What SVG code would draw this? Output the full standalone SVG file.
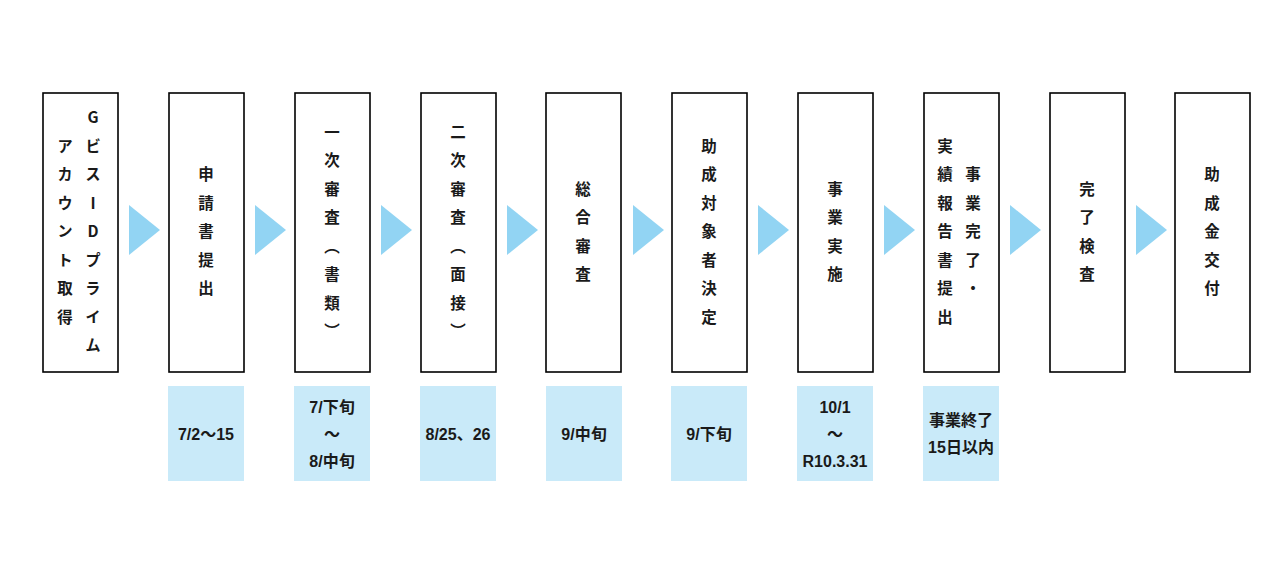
<svg xmlns="http://www.w3.org/2000/svg" width="1280" height="567" viewBox="0 0 1280 567">
<style>
.box{fill:#fff;stroke:#000;stroke-width:1.6}
.date{fill:#c9eaf9}
.arr{fill:#92d4f3}
.v{font-family:"Noto Sans CJK JP","Noto Sans",sans-serif;font-size:15.5px;font-weight:700;fill:#1a1a1a;writing-mode:vertical-rl;text-orientation:upright;letter-spacing:13px;text-anchor:middle}
.h{font-family:"Liberation Sans","Noto Sans CJK JP",sans-serif;font-size:16px;font-weight:700;fill:#1a1a1a;text-anchor:middle;dominant-baseline:central}
</style>
<defs>
<polygon id="tri" points="0,0 31,25 0,50"/>
</defs>
<rect width="1280" height="567" fill="#fff"/>
<g id="connectors">
<use href="#tri" class="arr" x="129" y="205"/>
<use href="#tri" class="arr" x="255" y="205"/>
<use href="#tri" class="arr" x="381" y="205"/>
<use href="#tri" class="arr" x="507" y="205"/>
<use href="#tri" class="arr" x="633" y="205"/>
<use href="#tri" class="arr" x="758" y="205"/>
<use href="#tri" class="arr" x="884" y="205"/>
<use href="#tri" class="arr" x="1010" y="205"/>
<use href="#tri" class="arr" x="1136" y="205"/>
</g>
<g id="n1"><rect class="box" x="43" y="93" width="75" height="279"/>
<text class="v" x="93" y="238">GビスIDプライム</text>
<text class="v" x="65" y="238">アカウント取得</text></g>
<g id="n2"><rect class="box" x="169" y="93" width="75" height="279"/>
<text class="v" x="206" y="238">申請書提出</text></g>
<g id="n3"><rect class="box" x="295" y="93" width="75" height="279"/>
<text class="v" x="332" y="238">一次審査（書類）</text></g>
<g id="n4"><rect class="box" x="421" y="93" width="75" height="279"/>
<text class="v" x="458" y="238">二次審査（面接）</text></g>
<g id="n5"><rect class="box" x="546" y="93" width="75" height="279"/>
<text class="v" x="583" y="238">総合審査</text></g>
<g id="n6"><rect class="box" x="672" y="93" width="75" height="279"/>
<text class="v" x="709" y="238">助成対象者決定</text></g>
<g id="n7"><rect class="box" x="798" y="93" width="75" height="279"/>
<text class="v" x="835" y="238">事業実施</text></g>
<g id="n8"><rect class="box" x="924" y="93" width="75" height="279"/>
<text class="v" x="973" y="238">事業完了・</text>
<text class="v" x="945" y="238">実績報告書提出</text></g>
<g id="n9"><rect class="box" x="1050" y="93" width="75" height="279"/>
<text class="v" x="1087" y="238">完了検査</text></g>
<g id="n10"><rect class="box" x="1175" y="93" width="75" height="279"/>
<text class="v" x="1212" y="238">助成金交付</text></g>
<g id="d2"><rect class="date" x="168" y="386" width="76" height="95"/>
<text class="h" x="206" y="434">7/2〜15</text></g>
<g id="d3"><rect class="date" x="294" y="386" width="76" height="95"/>
<text class="h" x="332" y="407">7/下旬</text>
<text class="h" x="332" y="434">〜</text>
<text class="h" x="332" y="461">8/中旬</text></g>
<g id="d4"><rect class="date" x="420" y="386" width="76" height="95"/>
<text class="h" x="458" y="434">8/25、26</text></g>
<g id="d5"><rect class="date" x="546" y="386" width="76" height="95"/>
<text class="h" x="584" y="434">9/中旬</text></g>
<g id="d6"><rect class="date" x="671" y="386" width="76" height="95"/>
<text class="h" x="709" y="434">9/下旬</text></g>
<g id="d7"><rect class="date" x="797" y="386" width="76" height="95"/>
<text class="h" x="835" y="407">10/1</text>
<text class="h" x="835" y="434">〜</text>
<text class="h" x="835" y="461">R10.3.31</text></g>
<g id="d8"><rect class="date" x="923" y="386" width="76" height="95"/>
<text class="h" x="961" y="420">事業終了</text>
<text class="h" x="961" y="447">15日以内</text></g>
</svg>
